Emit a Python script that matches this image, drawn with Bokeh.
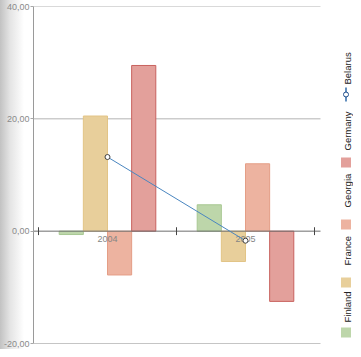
import numpy as np
from bokeh.plotting import figure
from bokeh.models import FixedTicker, Range1d
from bokeh.core.properties import value
from bokeh.embed import file_html
from bokeh.resources import INLINE

# ---- data ----
years = ["2004", "2005"]
finland = [-0.6, 4.7]
france = [20.5, -5.4]
georgia = [-7.8, 12.0]
germany = [29.5, -12.5]
belarus = [13.2, -1.7]
series_names = ["Finland", "France", "Georgia", "Germany"]
line_name = "Belarus"
y_ticks = [-20, 0, 20, 40]
y_tick_labels = ["-20,00", "0,00", "20,00", "40,00"]

# ---- style ----
fills = ["#bdd6aa", "#e8cf9b", "#edb3a0", "#e3a09b"]
lines = ["#a8c893", "#e2c486", "#e49e86", "#c8625e"]
FONT = "Liberation Sans"

W, H = 353, 349
TOP, BOTTOM = 6, 343          # frame top / bottom in picture px
FRAME_LEFT = 33               # approximate frame left in picture px
PX_PER_UNIT = 138.0
X0_PAGE = 38.0                # picture x of group boundary 0
x_start = -(X0_PAGE - FRAME_LEFT) / PX_PER_UNIT
x_end = (W - X0_PAGE) / PX_PER_UNIT
grid_end = len(years) + 6 / PX_PER_UNIT

p = figure(width=W, height=H, output_backend="svg", toolbar_location=None,
           x_range=Range1d(x_start, x_end), y_range=Range1d(min(y_ticks), max(y_ticks)),
           min_border_left=0, min_border_right=0, min_border_top=TOP,
           min_border_bottom=H - BOTTOM)
p.styles = {"background": "linear-gradient(to right, #c2c2c2 0px, #e4e4e4 10px, #ffffff 24px)"}
p.border_fill_color = None
p.background_fill_color = None
p.outline_line_color = None
p.grid.visible = False
p.xaxis.visible = False

ax = p.yaxis[0]
ax.ticker = FixedTicker(ticks=y_ticks)
ax.major_label_overrides = {float(t): l for t, l in zip(y_ticks, y_tick_labels)}
ax.axis_line_color = "#9a9a9a"
ax.major_tick_line_color = "#a8a8a8"
ax.major_tick_out = 3
ax.major_tick_in = 0
ax.minor_tick_line_color = None
ax.major_label_text_font_size = "9px"
ax.major_label_text_color = "#8a8a8a"
ax.major_label_text_font = FONT
ax.major_label_standoff = 1

# grid lines
gy = [t for t in y_ticks if t > 0]
p.segment(x0=[x_start] * len(gy), y0=gy, x1=[grid_end] * len(gy), y1=gy,
          line_color="#b4b4b4", line_width=1)
p.segment(x0=[x_start], y0=[min(y_ticks)], x1=[grid_end], y1=[min(y_ticks)],
          line_color="#8c8c8c", line_width=1.2)

# bars
xc = np.arange(len(years)) + 0.5
bw = 0.7 / len(series_names)
for k, (vals, fc, lc) in enumerate(zip([finland, france, georgia, germany], fills, lines)):
    p.vbar(x=xc + (k - (len(series_names) - 1) / 2) * bw, top=vals, bottom=0, width=bw,
           fill_color=fc, line_color=lc, line_width=1)

# zero axis with ticks
p.segment(x0=[x_start], y0=[0], x1=[grid_end], y1=[0], line_color="#6e6e6e", line_width=1)
bx = np.arange(len(years) + 1)
p.segment(x0=bx, y0=[-0.7] * len(bx), x1=bx, y1=[0.7] * len(bx), line_color="#444444", line_width=1)

# category labels
p.text(x=xc, y=[0] * len(years), text=years, y_offset=5, text_align="center",
       text_baseline="top", text_font=value(FONT), text_font_size="9px", text_color="#858585")

# Belarus line
p.line(x=xc, y=belarus, line_color="#4a86c0", line_width=1)
p.scatter(x=xc, y=belarus, size=5, marker="circle", fill_color="white", line_color="#404040", line_width=1)

# ---- legend (rotated, drawn in data space) ----
def py(page_y):
    return max(y_ticks) - (page_y - TOP) * (max(y_ticks) - min(y_ticks)) / (BOTTOM - TOP)

def px(page_x):
    return (page_x - X0_PAGE) / PX_PER_UNIT

sq_centers = [332, 282, 224, 162]
txt_bottoms = [322, 265, 207, 150]
lx = px(345.5)
p.scatter(x=[lx] * 4, y=[py(v) for v in sq_centers], marker="square", size=10,
          fill_color=fills, line_color=None)
p.text(x=[px(346.5)] * 4, y=[py(v) for v in txt_bottoms], text=series_names, angle=np.pi / 2,
       text_align="left", text_baseline="middle", text_font=value(FONT),
       text_font_size="9.5px", text_color="#222222")
# Belarus legend
p.segment(x0=[lx], y0=[py(101)], x1=[lx], y1=[py(87)], line_color="#2f6aa8", line_width=1.5)
p.scatter(x=[lx], y=[py(94)], size=5, marker="circle", fill_color="white", line_color="#1f4e8c", line_width=1)
p.text(x=[px(346.5)], y=[py(84)], text=[line_name], angle=np.pi / 2,
       text_align="left", text_baseline="middle", text_font=value(FONT),
       text_font_size="9.5px", text_color="#222222")

open("out.html", "w").write(file_html(p, INLINE))
